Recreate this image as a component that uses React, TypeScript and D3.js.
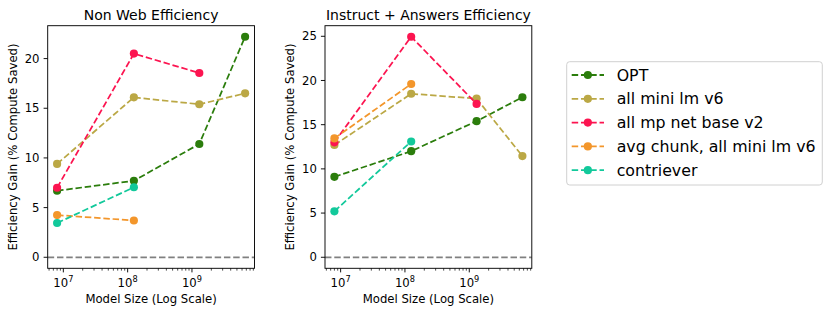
import React from "react";
import * as d3 from "d3";

const modelSizes = [8e6, 1.25e8, 1.3e9, 6.7e9];
const seriesNames = ["OPT", "all mini lm v6", "all mp net base v2", "avg chunk, all mini lm v6", "contriever"];
const seriesColors = ["#2b7d0c", "#bba845", "#fc1450", "#f3962b", "#12c99b"];

// values per series (null = missing)
const nonWebOPT = [6.7, 7.7, 11.4, 22.2];
const nonWebMiniLM = [9.4, 16.1, 15.4, 16.5];
const nonWebMPNet = [7.0, 20.5, 18.55, null];
const nonWebAvgChunk = [4.25, 3.7, null, null];
const nonWebContriever = [3.45, 7.05, null, null];

const instrOPT = [9.1, 12.0, 15.4, 18.1];
const instrMiniLM = [12.7, 18.5, 17.95, 11.45];
const instrMPNet = [13.0, 24.95, 17.35, null];
const instrAvgChunk = [13.45, 19.6, null, null];
const instrContriever = [5.2, 13.1, null, null];

const nonWebTicks = [0, 5, 10, 15, 20];
const instrTicks = [0, 5, 10, 15, 20, 25];
const xMajor = [1e7, 1e8, 1e9];

const panels = [
  { title: "Non Web Efficiency", series: [nonWebOPT, nonWebMiniLM, nonWebMPNet, nonWebAvgChunk, nonWebContriever], yTicks: nonWebTicks, x0: 47.7 },
  { title: "Instruct + Answers Efficiency", series: [instrOPT, instrMiniLM, instrMPNet, instrAvgChunk, instrContriever], yTicks: instrTicks, x0: 325 },
];

const W = 206.8;
const Y0 = 25.7;
const Y1 = 268.3;
const FONT = "DejaVu Sans, sans-serif";
const s = 1.1667;
const R = 3 * s + 0.5 * s;

function Panel({ p }: { p: any }) {
  const lo = Math.log10(d3.min(modelSizes)!);
  const hi = Math.log10(d3.max(modelSizes)!);
  const mx = 0.05 * (hi - lo);
  const x = d3.scaleLog().domain([Math.pow(10, lo - mx), Math.pow(10, hi + mx)]).range([p.x0, p.x0 + W]);
  const all: number[] = [0];
  p.series.forEach((arr: any[]) => arr.forEach((v) => v != null && all.push(v)));
  const ymin = d3.min(all)!, ymax = d3.max(all)!;
  const my = 0.05 * (ymax - ymin);
  const y = d3.scaleLinear().domain([ymin - my, ymax + my]).range([Y1, Y0]);
  const minor: number[] = [];
  const [d0, d1] = x.domain();
  for (let e = 6; e <= 10; e++) for (let m = 2; m <= 9; m++) {
    const v = m * Math.pow(10, e);
    if (v >= d0 && v <= d1) minor.push(v);
  }
  const line = d3.line<any>().defined((d) => d[1] != null).x((d) => x(d[0])).y((d) => y(d[1]));
  const dash = `${3.7 * 1.5 * s} ${1.6 * 1.5 * s}`;
  const tickLen = 3.5 * s, minorLen = 2 * s, pad = 3.5 * s;
  return (
    <g>
      <text x={p.x0 + W / 2} y={20} textAnchor="middle" fontSize={14} fontFamily={FONT}>{p.title}</text>
      <defs>
        <clipPath id={"clip" + p.x0}><rect x={p.x0} y={Y0} width={W} height={Y1 - Y0} /></clipPath>
      </defs>
      <line x1={p.x0} x2={p.x0 + W} y1={y(0)} y2={y(0)} stroke="#808080" strokeWidth={1.5 * s} strokeDasharray={dash} clipPath={`url(#clip${p.x0})`} />
      {p.series.map((arr: any[], i: number) => {
        const pts = modelSizes.map((m, j) => [m, arr[j]]);
        return (
          <g key={i}>
            <path d={line(pts) || ""} fill="none" stroke={seriesColors[i]} strokeWidth={1.5 * s} strokeDasharray={dash} />
            {pts.filter((d) => d[1] != null).map((d, j) => (
              <circle key={j} cx={x(d[0])} cy={y(d[1])} r={R} fill={seriesColors[i]} />
            ))}
          </g>
        );
      })}
      <rect x={p.x0} y={Y0} width={W} height={Y1 - Y0} fill="none" stroke="#000" strokeWidth={0.8 * s} />
      {p.yTicks.map((t: number) => (
        <g key={t}>
          <line x1={p.x0 - tickLen} x2={p.x0} y1={y(t)} y2={y(t)} stroke="#000" strokeWidth={0.8 * s} />
          <text x={p.x0 - tickLen - pad} y={y(t)} dy="0.36em" textAnchor="end" fontSize={11.67} fontFamily={FONT}>{t}</text>
        </g>
      ))}
      {minor.map((t) => (
        <line key={t} x1={x(t)} x2={x(t)} y1={Y1} y2={Y1 + minorLen} stroke="#000" strokeWidth={0.6 * s} />
      ))}
      {xMajor.map((t) => (
        <g key={t}>
          <line x1={x(t)} x2={x(t)} y1={Y1} y2={Y1 + tickLen} stroke="#000" strokeWidth={0.8 * s} />
          <text x={x(t)} y={286.7} textAnchor="middle" fontSize={11.67} fontFamily={FONT}>
            10<tspan fontSize={8.2} dy={-4.6}>{Math.round(Math.log10(t))}</tspan>
          </text>
        </g>
      ))}
      <text x={p.x0 + W / 2} y={303.3} textAnchor="middle" fontSize={11.67} fontFamily={FONT}>Model Size (Log Scale)</text>
      <text transform={`translate(${p.x0 - 31.2},${(Y0 + Y1) / 2}) rotate(-90)`} textAnchor="middle" fontSize={11.67} fontFamily={FONT}>Efficiency Gain (% Compute Saved)</text>
    </g>
  );
}

function Legend() {
  const lx = 566.7, ly = 61.7, lw = 255.6, lh = 123.3;
  const rowY = d3.range(seriesNames.length).map((i) => 75 + i * 23.8);
  const dash = `${3.7 * 1.5 * s} ${1.6 * 1.5 * s}`;
  return (
    <g>
      <rect x={lx} y={ly} width={lw} height={lh} rx={3} fill="#fff" fillOpacity={0.8} stroke="#cccccc" strokeWidth={0.8 * s} />
      {seriesNames.map((n, i) => (
        <g key={n}>
          <line x1={571.7} x2={604} y1={rowY[i]} y2={rowY[i]} stroke={seriesColors[i]} strokeWidth={1.5 * s} strokeDasharray={dash} />
          <circle cx={587.85} cy={rowY[i]} r={R} fill={seriesColors[i]} />
          <text x={616.7} y={rowY[i]} dy="0.36em" fontSize={15.8} fontFamily={FONT}>{n}</text>
        </g>
      ))}
    </g>
  );
}

export default function App() {
  return (
    <svg width={831} height={314} style={{ position: "absolute", left: 0, top: 0, background: "#fff" }}>
      <rect width={831} height={314} fill="#fff" />
      {panels.map((p) => <Panel key={p.title} p={p} />)}
      <Legend />
    </svg>
  );
}
